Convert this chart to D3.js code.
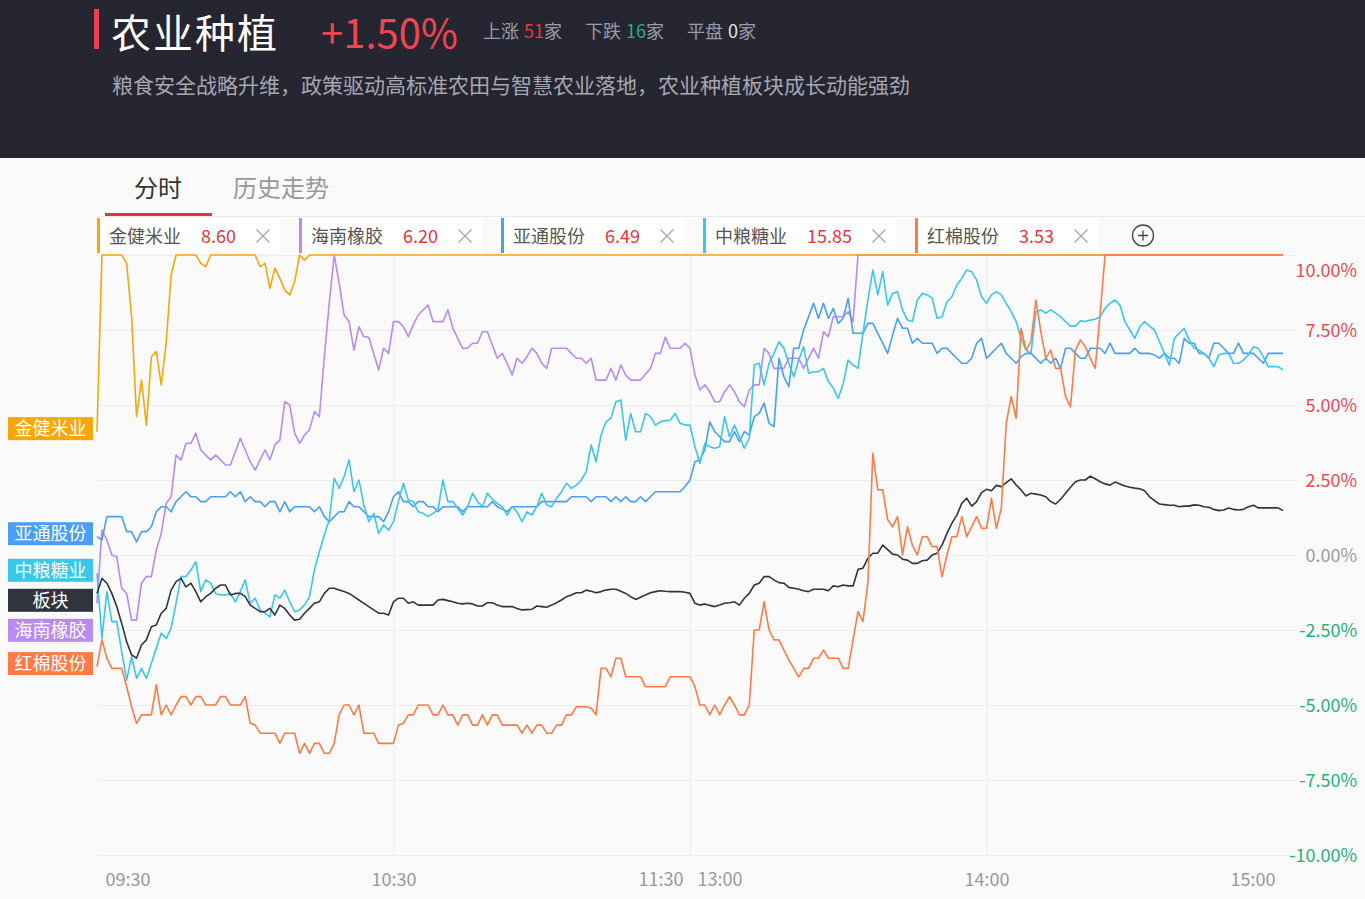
<!DOCTYPE html>
<html>
<head>
<meta charset="utf-8">
<script src="https://cdn.jsdelivr.net/npm/d3@7"></script>
<style>
  html, body { margin: 0; padding: 0; background: #fafafa; }
  body { width: 1365px; height: 899px; overflow: hidden; }
</style>
</head>
<body>
<svg id="chart" width="1365" height="899"></svg>
<script>
const FONT = '"Noto Sans CJK SC","Noto Sans",sans-serif';

// ---- data (percent change, one value per trading minute from 09:30) ----
const jinjian = [
  4.11,10,10,10,10,10,9.72,7.94,4.61,5.83,
  4.33,6.61,6.78,5.67,7.06,9.33,10,10,10,10,
  10,9.72,9.61,10,10,10,10,10,10,10,
  10,10,10,9.61,9.72,8.89,9.56,9.22,8.83,8.67,
  9.11,10,9.83,10,10,10,10,10,10,10,
  10,10,10,10,10,10,10,10,10,10,
  10,10,10,10,10,10,10,10,10,10,
  10,10,10,10,10,10,10,10,10,10,
  10,10,10,10,10,10,10,10,10,10,
  10,10,10,10,10,10,10,10,10,10,
  10,10,10,10,10,10,10,10,10,10,
  10,10,10,10,10,10,10,10,10,10,
  10,10,10,10,10,10,10,10,10,10,
  10,10,10,10,10,10,10,10,10,10,
  10,10,10,10,10,10,10,10,10,10,
  10,10,10,10,10,10,10,10,10,10,
  10,10,10,10,10,10,10,10,10,10,
  10,10,10,10,10,10,10,10,10,10,
  10,10,10,10,10,10,10,10,10,10,
  10,10,10,10,10,10,10,10,10,10,
  10,10,10,10,10,10,10,10,10,10,
  10,10,10,10,10,10,10,10,10,10,
  10,10,10,10,10,10,10,10,10,10,
  10,10,10,10,10,10,10,10,10,10,
  10
];
const hainan = [
  -1.61,0.83,0.50,0.00,-0.06,-1.11,-1.28,-2.17,-2.17,-0.94,
  -0.72,-0.72,0.17,0.72,1.72,1.94,3.33,3.17,3.72,3.72,
  4.06,3.50,3.33,3.17,3.33,3.17,3.00,3.00,3.44,3.89,
  3.50,3.11,2.83,3.17,3.50,3.17,3.67,3.83,5.11,5.00,
  4.06,3.72,4.00,4.17,4.78,4.61,6.61,8.39,10,9.06,
  8.00,7.78,6.83,7.61,7.28,7.26,6.72,6.17,6.89,6.72,
  7.78,7.78,7.61,7.28,7.67,8.00,8.17,8.33,7.78,7.78,
  7.78,8.17,7.56,7.22,6.89,6.89,7.06,7.06,7.44,7.44,
  7.00,6.56,6.72,6.39,6.00,6.56,6.39,6.61,6.89,6.72,
  6.39,6.22,6.89,6.89,6.89,6.89,6.72,6.56,6.56,6.39,
  6.56,5.83,5.83,5.83,6.22,5.83,6.33,6.00,5.83,5.83,
  5.83,6.03,6.22,6.72,6.72,7.26,6.89,6.89,6.89,7.06,
  6.89,6.00,5.50,5.67,5.44,5.11,5.11,5.44,5.67,5.44,
  5.11,4.94,5.50,5.67,5.67,6.89,6.72,6.22,6.22,6.22,
  6.56,6.56,6.56,6.22,6.56,6.89,6.56,7.44,7.28,7.94,
  7.94,7.94,8.11,7.78,10,10,10,10,10,10,
  10,10,10,10,10,10,10,10,10,10,
  10,10,10,10,10,10,10,10,10,10,
  10,10,10,10,10,10,10,10,10,10,
  10,10,10,10,10,10,10,10,10,10,
  10,10,10,10,10,10,10,10,10,10,
  10,10,10,10,10,10,10,10,10,10,
  10,10,10,10,10,10,10,10,10,10,
  10,10,10,10,10,10,10,10,10,10,
  10
];
const yatong = [
  0.61,0.50,1.28,1.28,1.28,1.28,0.78,0.78,0.44,0.78,
  0.78,0.94,1.44,1.61,1.61,1.44,1.78,1.94,2.11,1.94,
  1.94,1.78,1.78,1.94,1.94,1.94,1.94,2.11,1.94,2.11,
  1.78,1.94,1.78,1.78,1.61,1.78,1.78,1.44,1.78,1.44,
  1.61,1.61,1.61,1.61,1.44,1.61,1.28,1.11,1.28,1.44,
  1.44,1.78,1.61,1.61,1.44,1.28,1.28,1.28,1.11,1.44,
  1.94,2.11,1.78,1.78,1.61,1.78,1.78,1.61,1.61,1.44,
  1.61,1.61,1.61,1.61,1.44,1.61,1.61,1.61,1.61,1.61,
  1.78,1.61,1.53,1.44,1.61,1.61,1.61,1.61,1.61,1.61,
  1.78,1.78,1.78,1.78,1.78,1.78,1.94,1.94,1.94,1.94,
  1.78,1.94,1.94,1.94,1.78,1.94,1.78,1.94,1.78,1.78,
  1.94,1.78,1.94,2.11,2.11,2.11,2.11,2.11,2.11,2.28,
  2.50,3.11,3.17,3.50,4.44,4.11,3.94,3.78,3.78,4.11,
  3.78,4.11,4.00,4.61,4.72,5.06,4.39,4.28,6.56,5.94,
  5.61,6.89,6.89,7.50,7.94,8.39,7.89,8.39,7.89,8.22,
  7.72,7.89,8.56,7.39,7.39,7.39,7.72,7.72,7.39,7.06,
  6.72,7.33,7.89,7.56,7.56,7.06,7.22,7.06,7.06,7.06,
  6.72,6.89,6.89,6.72,6.56,6.39,6.39,6.56,7.06,7.22,
  6.56,6.72,6.89,7.06,6.72,6.56,6.39,6.61,6.72,6.72,
  6.56,6.39,6.56,6.39,6.56,6.22,6.89,6.89,6.72,6.56,
  6.56,6.89,6.89,6.89,6.72,7.06,6.72,6.72,6.72,6.72,
  6.89,6.72,6.72,6.72,6.67,6.56,6.72,6.56,6.56,6.39,
  7.22,7.06,7.06,6.72,6.72,6.56,7.06,7.06,6.89,6.72,
  6.72,7.06,6.72,6.72,6.72,6.56,6.39,6.72,6.72,6.72,
  6.72
];
const zhongliang = [
  -0.61,-2.78,-1.22,-2.22,-2.22,-3.22,-4.17,-3.39,-4.11,-3.78,
  -4.11,-3.61,-3.11,-2.61,-2.78,-2.44,-1.61,-0.72,-0.72,-0.50,
  -0.22,-1.22,-0.83,-0.94,-1.28,-1.33,-1.33,-1.28,-1.56,-1.22,
  -0.83,-1.61,-1.44,-1.83,-1.94,-2.06,-1.33,-1.44,-1.17,-1.56,
  -1.89,-1.83,-1.67,-1.39,-0.50,0.11,0.67,1.17,2.56,2.22,
  2.61,3.17,2.11,2.50,1.67,1.11,1.39,0.72,1.00,0.83,
  1.11,1.78,2.39,1.83,1.78,1.44,1.39,1.28,1.39,1.50,
  2.50,1.78,1.78,1.56,1.33,1.61,2.06,1.78,1.61,2.06,
  1.86,1.72,1.61,1.33,1.61,1.44,1.11,1.44,1.33,1.61,
  2.06,1.67,1.61,1.89,2.11,2.39,2.22,2.33,2.50,2.78,
  3.67,3.11,4.00,4.44,4.56,5.11,5.17,3.83,4.72,4.11,
  4.11,4.72,4.61,4.33,4.44,4.48,4.50,4.72,4.39,4.33,
  4.33,3.61,3.06,3.72,3.61,3.56,3.61,4.61,3.94,4.33,
  3.94,3.56,3.89,6.33,6.39,5.67,6.39,6.72,7.11,6.89,
  6.39,5.94,6.50,6.94,6.06,6.11,6.11,6.22,5.78,5.56,
  5.22,5.72,6.50,6.33,6.22,7.39,8.50,9.50,8.67,9.44,
  8.33,8.72,8.78,8.17,7.83,7.78,8.50,8.72,8.67,8.56,
  7.89,7.94,8.44,8.61,9.00,9.22,9.50,9.44,9.17,8.61,
  8.39,8.67,8.78,8.67,8.39,8.11,7.78,7.22,6.83,6.72,
  8.11,8.17,8.06,8.17,8.06,7.94,7.78,7.63,7.63,7.81,
  7.78,7.83,7.86,7.94,8.22,8.39,8.50,8.33,7.78,7.50,
  7.22,7.61,7.78,7.63,7.50,7.11,6.72,6.33,7.22,7.39,
  7.56,7.17,6.89,6.83,6.72,6.56,6.28,6.67,6.72,6.72,
  6.39,6.39,6.50,6.67,6.94,6.89,6.61,6.28,6.28,6.28,
  6.17
];
const bankuai = [
  -1.28,-0.78,-0.94,-1.28,-1.72,-2.28,-2.89,-3.33,-3.44,-3.00,
  -2.83,-2.39,-2.33,-1.94,-1.78,-1.17,-0.89,-0.78,-1.06,-0.94,
  -1.22,-1.56,-1.39,-1.28,-1.11,-1.00,-1.00,-1.33,-1.28,-1.28,
  -1.39,-1.67,-1.78,-1.89,-1.89,-1.78,-2.00,-1.67,-1.78,-2.00,
  -2.17,-2.14,-1.94,-1.78,-1.61,-1.56,-1.28,-1.11,-1.11,-1.17,
  -1.22,-1.28,-1.39,-1.50,-1.61,-1.72,-1.83,-1.94,-1.94,-2.00,
  -1.56,-1.44,-1.44,-1.61,-1.56,-1.67,-1.67,-1.67,-1.67,-1.50,
  -1.48,-1.52,-1.56,-1.61,-1.63,-1.61,-1.63,-1.70,-1.70,-1.59,
  -1.59,-1.67,-1.72,-1.72,-1.72,-1.78,-1.83,-1.82,-1.81,-1.70,
  -1.72,-1.74,-1.67,-1.59,-1.50,-1.39,-1.33,-1.26,-1.26,-1.17,
  -1.21,-1.26,-1.22,-1.17,-1.14,-1.14,-1.21,-1.28,-1.39,-1.48,
  -1.41,-1.33,-1.26,-1.22,-1.19,-1.21,-1.22,-1.22,-1.22,-1.24,
  -1.28,-1.61,-1.67,-1.63,-1.68,-1.72,-1.67,-1.61,-1.59,-1.56,
  -1.67,-1.44,-1.28,-1.00,-0.94,-0.72,-0.72,-0.83,-0.92,-0.94,
  -1.08,-1.11,-1.14,-1.19,-1.22,-1.14,-1.14,-1.14,-1.19,-1.03,
  -1.06,-1.00,-1.03,-1.03,-0.48,-0.44,-0.11,0.06,0.06,0.33,
  0.18,0.03,0.00,-0.14,-0.17,-0.28,-0.28,-0.19,-0.17,0.00,
  0.06,0.33,0.72,1.06,1.33,1.72,1.89,1.63,1.78,2.08,
  2.19,2.14,2.32,2.28,2.41,2.54,2.33,2.17,1.97,2.06,
  2.03,2.00,1.94,1.78,1.70,1.86,2.06,2.26,2.44,2.50,
  2.50,2.63,2.54,2.44,2.37,2.33,2.43,2.37,2.30,2.26,
  2.23,2.21,2.14,1.94,1.81,1.70,1.68,1.66,1.66,1.61,
  1.63,1.63,1.67,1.66,1.61,1.59,1.52,1.48,1.50,1.57,
  1.52,1.50,1.52,1.61,1.66,1.57,1.57,1.57,1.57,1.57,
  1.48
];
const hongmian = [
  -3.72,-2.83,-3.44,-3.78,-3.78,-3.78,-4.39,-5.06,-5.61,-5.33,
  -5.33,-5.33,-4.33,-5.33,-5.00,-5.33,-5.00,-4.72,-4.72,-5.00,
  -4.72,-4.72,-5.00,-5.00,-5.00,-4.72,-4.72,-5.00,-5.00,-5.00,
  -4.72,-5.61,-5.67,-5.94,-5.94,-5.94,-5.94,-6.28,-5.94,-5.94,
  -5.94,-6.61,-6.28,-6.61,-6.28,-6.28,-6.61,-6.61,-6.28,-5.33,
  -5.00,-5.00,-5.33,-5.00,-5.94,-5.94,-5.94,-6.28,-6.28,-6.28,
  -6.28,-5.67,-5.61,-5.33,-5.33,-5.00,-5.00,-5.00,-5.33,-5.33,
  -5.00,-5.33,-5.33,-5.67,-5.33,-5.33,-5.67,-5.67,-5.33,-5.67,
  -5.33,-5.33,-5.67,-5.67,-5.67,-5.67,-5.94,-5.67,-5.94,-5.67,
  -5.67,-5.94,-5.94,-5.67,-5.67,-5.33,-5.33,-5.06,-5.06,-5.06,
  -5.11,-5.33,-3.78,-3.78,-4.06,-3.44,-3.44,-4.06,-4.06,-4.06,
  -4.06,-4.39,-4.39,-4.39,-4.39,-4.39,-4.06,-4.06,-4.06,-4.06,
  -4.06,-4.39,-5.00,-5.00,-5.33,-5.00,-5.33,-5.00,-4.72,-5.00,
  -5.33,-5.33,-5.00,-2.50,-2.50,-1.56,-2.50,-2.83,-2.83,-3.17,
  -3.50,-3.78,-4.06,-3.78,-3.78,-3.44,-3.44,-3.17,-3.44,-3.44,
  -3.44,-3.78,-3.78,-2.83,-1.89,-2.22,-0.94,3.39,2.17,2.17,
  1.17,0.94,1.28,0.00,0.94,0.33,0.00,0.61,0.61,0.28,
  0.28,-0.72,0.00,0.61,0.61,1.28,0.61,0.94,1.28,0.89,
  0.89,1.89,0.89,1.56,4.39,5.28,4.56,7.56,6.83,7.11,
  8.50,7.44,6.56,6.83,6.22,6.22,5.28,4.94,6.83,7.17,
  6.94,6.56,6.22,8.06,10,10,10,10,10,10,
  10,10,10,10,10,10,10,10,10,10,
  10,10,10,10,10,10,10,10,10,10,
  10,10,10,10,10,10,10,10,10,10,
  10
];

const stockNames  = ["金健米业", "海南橡胶", "亚通股份", "中粮糖业", "红棉股份"];
const stockPrices = ["8.60", "6.20", "6.49", "15.85", "3.53"];
const stockColors = ["#f7a60c", "#b98af0", "#4a9ef4", "#38c8e8", "#ff7a45"];
const sectorName  = "板块";
const sectorColor = "#30343f";

const yTicks     = [-10, -7.5, -5, -2.5, 0, 2.5, 5, 7.5, 10];
const timeTicks  = [0, 60, 120, 180, 240];
const timeLabels = ["09:30", "10:30", "11:30 13:00", "14:00", "15:00"];

const statLabels = ["上涨", "下跌", "平盘"];
const statCounts = ["51", "16", "0"];
const statColors = ["#e8373f", "#1db27a", "#e8e8e8"];

const svg = d3.select("#chart");

// ****************** header ******************
svg.append("rect").attr("width", 1365).attr("height", 158).attr("fill", "#262633");
svg.append("rect").attr("x", 94).attr("y", 9).attr("width", 5).attr("height", 40).attr("fill", "#e8414f");
svg.append("text").attr("x", 111).attr("y", 48)
    .attr("font-family", FONT).attr("font-size", 40).attr("letter-spacing", 2)
    .attr("fill", "#ffffff")
    .text("农业种植");
svg.append("text").attr("x", 321).attr("y", 48)
    .attr("font-family", FONT).attr("font-size", 40).attr("fill", "#f0464e")
    .text("+1.50%");

var stat = svg.append("g").attr("font-family", FONT).attr("font-size", 18);
statLabels.forEach(function(lbl, i) {
  var t = stat.append("text").attr("x", 483 + i * 102).attr("y", 38).attr("fill", "#9c9ca6");
  t.append("tspan").text(lbl);
  t.append("tspan").attr("dx", 5).attr("fill", statColors[i]).text(statCounts[i]);
  t.append("tspan").text("家");
});

svg.append("text").attr("x", 112).attr("y", 93)
    .attr("font-family", FONT).attr("font-size", 21).attr("fill", "#a7a7b0")
    .text("粮食安全战略升维，政策驱动高标准农田与智慧农业落地，农业种植板块成长动能强劲");

// ****************** tabs ******************
svg.append("text").attr("x", 134).attr("y", 197)
    .attr("font-family", FONT).attr("font-size", 24).attr("fill", "#333")
    .text("分时");
svg.append("text").attr("x", 233).attr("y", 197)
    .attr("font-family", FONT).attr("font-size", 24).attr("fill", "#999")
    .text("历史走势");
svg.append("line").attr("x1", 97).attr("x2", 1365).attr("y1", 216.5).attr("y2", 216.5)
    .attr("stroke", "#ebebeb");
svg.append("rect").attr("x", 105).attr("y", 213).attr("width", 107).attr("height", 3).attr("fill", "#e0353f");

// ****************** legend chips ******************
var chipX = 97;
stockNames.forEach(function(name, i) {
  var w = stockPrices[i].length > 4 ? 193 : 183;
  var g = svg.append("g").attr("transform", "translate(" + chipX + ",218)");
  g.append("rect").attr("width", w).attr("height", 35).attr("fill", "#fff");
  g.append("rect").attr("width", 3).attr("height", 35).attr("fill", stockColors[i]);
  g.append("text").attr("x", 12).attr("y", 25)
      .attr("font-family", FONT).attr("font-size", 18).attr("fill", "#555")
      .text(name);
  g.append("text").attr("x", 104).attr("y", 25)
      .attr("font-family", FONT).attr("font-size", 18).attr("fill", "#e8333b")
      .text(stockPrices[i]);
  var cx = w - 17, cy = 18;
  g.append("path")
      .attr("d", `M ${cx - 6.5} ${cy - 6.5} L ${cx + 6.5} ${cy + 6.5} M ${cx + 6.5} ${cy - 6.5} L ${cx - 6.5} ${cy + 6.5}`)
      .attr("stroke", "#a8a8a8").attr("stroke-width", 1.4).attr("fill", "none");
  chipX += w + 19;
});
svg.append("circle").attr("cx", 1143).attr("cy", 235.5).attr("r", 10.5)
    .attr("fill", "none").attr("stroke", "#444").attr("stroke-width", 1.3);
svg.append("path").attr("d", "M 1138 235.5 L 1148 235.5 M 1143 230.5 L 1143 240.5")
    .attr("stroke", "#444").attr("stroke-width", 1.3);

// ****************** scales ******************
const x = d3.scaleLinear().domain([0, 240]).range([97, 1283]);
const y = d3.scaleLinear().domain([-10, 10]).range([855, 255]);

// grid
var grid = svg.append("g");
grid.selectAll("line.h").data(yTicks).enter().append("line")
    .attr("x1", 97).attr("x2", 1296)
    .attr("y1", d => y(d) + 0.5).attr("y2", d => y(d) + 0.5)
    .attr("stroke", "#ececec");
grid.selectAll("line.v").data([60, 120, 180]).enter().append("line")
    .attr("x1", d => x(d) + 0.5).attr("x2", d => x(d) + 0.5)
    .attr("y1", 255).attr("y2", 856)
    .attr("stroke", "#ececec");

// y axis on the right
var yAxis = svg.append("g").attr("transform", "translate(1357,0)")
    .call(d3.axisRight(y).tickValues(yTicks).tickSize(0).tickPadding(0)
      .tickFormat(d => d.toFixed(2) + "%"));
yAxis.attr("font-family", FONT).attr("font-size", 18);
yAxis.select(".domain").remove();
yAxis.selectAll("text")
    .attr("x", 0)
    .attr("text-anchor", "end")
    .attr("dy", d => d === 10 ? "1.18em" : "0.35em")
    .attr("fill", d => d > 0 ? "#f0474f" : (d < 0 ? "#1fb27a" : "#9a9a9a"));

// x axis (time)
var xAxis = svg.append("g").attr("transform", "translate(0,872)")
    .call(d3.axisBottom(x).tickValues(timeTicks).tickSize(0)
      .tickFormat((d, i) => timeLabels[i]));
xAxis.attr("font-family", FONT).attr("font-size", 18);
xAxis.select(".domain").remove();
xAxis.selectAll("text")
    .attr("y", 14).attr("dy", 0).attr("fill", "#999")
    .each(function(d, i) {
      var t = d3.select(this);
      if (i === 0) t.attr("text-anchor", "start").attr("x", 8);
      if (i === timeTicks.length - 1) t.attr("text-anchor", "end").attr("x", -8);
      if (timeLabels[i].indexOf(" ") > 0) {
        var parts = timeLabels[i].split(" ");
        t.text(null);
        t.append("tspan").attr("x", -7).attr("text-anchor", "end").text(parts[0]);
        t.append("tspan").attr("x", 7).attr("text-anchor", "start").text(parts[1]);
      }
    });

// ****************** lines ******************
const line = d3.line().x((d, i) => x(i)).y(d => y(d));

const drawOrder = [
  { values: hainan,     color: stockColors[1] },
  { values: yatong,     color: stockColors[2] },
  { values: zhongliang, color: stockColors[3] },
  { values: bankuai,    color: sectorColor },
  { values: jinjian,    color: stockColors[0] },
  { values: hongmian,   color: stockColors[4] }
];
svg.append("g").selectAll("path").data(drawOrder).enter().append("path")
    .attr("d", d => line(d.values))
    .attr("fill", "none")
    .attr("stroke", d => d.color)
    .attr("stroke-width", 1.6)
    .attr("stroke-linejoin", "round");

// ****************** left name tags ******************
var tags = [
  { name: stockNames[0], color: stockColors[0], v: jinjian[0] },
  { name: stockNames[1], color: stockColors[1], v: hainan[0] },
  { name: stockNames[2], color: stockColors[2], v: yatong[0] },
  { name: stockNames[3], color: stockColors[3], v: zhongliang[0] },
  { name: stockNames[4], color: stockColors[4], v: hongmian[0] },
  { name: sectorName,    color: sectorColor,    v: bankuai[0] }
];
tags.forEach(t => t.cy = y(t.v) - 3);
tags.sort((a, b) => a.cy - b.cy);
for (var k = 1; k < tags.length; k++) {
  if (tags[k].cy < tags[k - 1].cy + 30) tags[k].cy = tags[k - 1].cy + 30;
}
var tag = svg.append("g").selectAll("g").data(tags).enter().append("g")
    .attr("transform", d => "translate(8," + (d.cy - 11.5) + ")");
tag.append("rect").attr("width", 85).attr("height", 23).attr("fill", d => d.color);
tag.append("text").attr("x", 42.5).attr("y", 18)
    .attr("text-anchor", "middle")
    .attr("font-family", FONT).attr("font-size", 18).attr("fill", "#fff")
    .text(d => d.name);
</script>
</body>
</html>
